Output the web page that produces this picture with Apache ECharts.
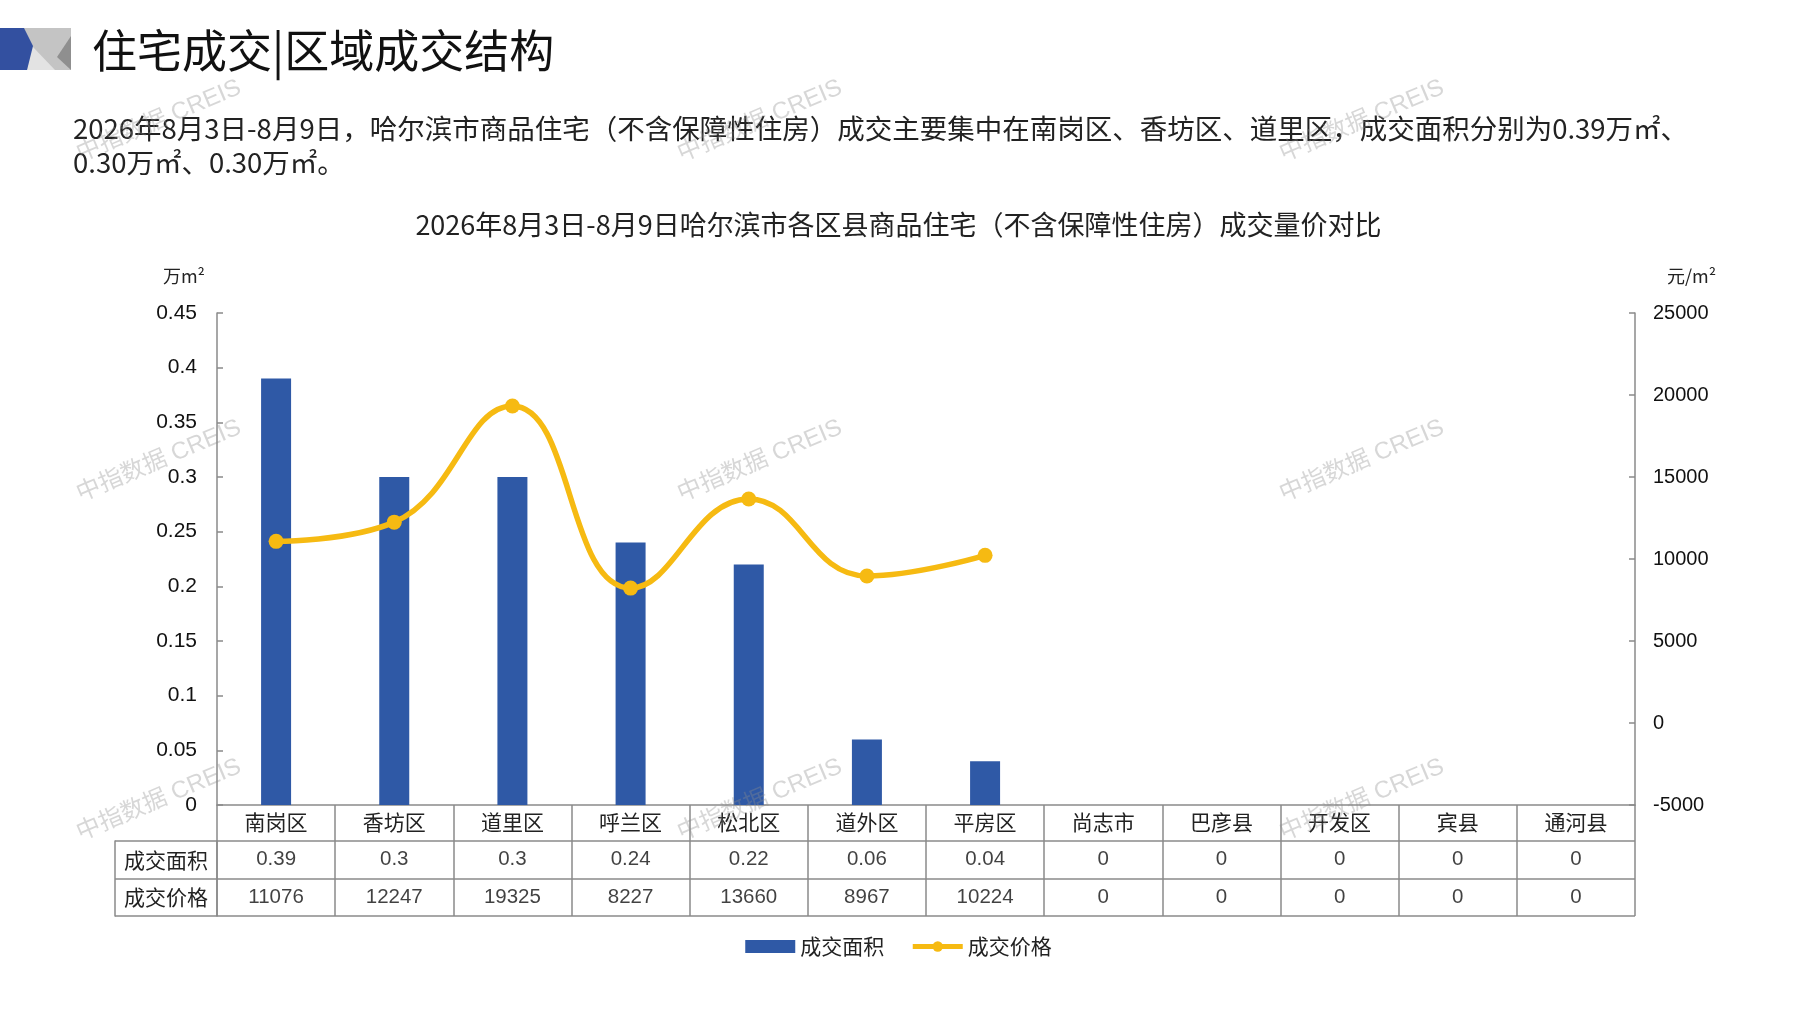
<!DOCTYPE html>
<html>
<head>
<meta charset="utf-8">
<script src="https://cdn.jsdelivr.net/npm/echarts@6/dist/echarts.min.js"></script>
<style>
html,body{margin:0;padding:0;background:#fff;}
#c{width:1797px;height:1010px;}
</style>
</head>
<body>
<div id="c"></div>
<script>
const categories = ['南岗区','香坊区','道里区','呼兰区','松北区','道外区','平房区','尚志市','巴彦县','开发区','宾县','通河县'];
const areaValues = [0.39, 0.3, 0.3, 0.24, 0.22, 0.06, 0.04, 0, 0, 0, 0, 0];
const priceValues = [11076, 12247, 19325, 8227, 13660, 8967, 10224, 0, 0, 0, 0, 0];
const priceLineCount = 7; // districts with recorded prices drawn on the line
const rowNames = ['成交面积','成交价格'];
const leftTicks = {min: 0, max: 0.45, interval: 0.05};
const rightTicks = {min: -5000, max: 25000, interval: 5000};

const CJK = '"Noto Sans CJK SC", sans-serif';
const NUM = '"Liberation Sans", "Noto Sans CJK SC", sans-serif';
const AX = '#8a8a8a';
const LINE_COLOR = '#F6BA12';

const chart = echarts.init(document.getElementById('c'), null, {renderer: 'canvas'});

const priceLine = priceValues.map((v, i) => i < priceLineCount ? v : null);
const tableData = [];
categories.forEach((c, i) => {
  tableData.push([c, rowNames[0], areaValues[i]]);
  tableData.push([c, rowNames[1], priceValues[i]]);
});

const watermarks = [];
[[159,121],[760,121],[1362,121],[159,461],[760,461],[1362,461],[159,800],[760,800],[1362,800]].forEach(p => {
  watermarks.push({
    type: 'text', x: p[0], y: p[1], rotation: 23 * Math.PI / 180, z: 100, silent: true,
    style: {text: '中指数据 CREIS', fill: 'rgba(140,140,140,0.35)', font: '24px ' + NUM, align: 'center', verticalAlign: 'middle'}
  });
});

const option = {
  backgroundColor: '#fff',
  animation: false,
  title: {
    text: '2026年8月3日-8月9日哈尔滨市各区县商品住宅（不含保障性住房）成交量价对比',
    left: 'center', top: 206,
    textStyle: {fontFamily: CJK, fontSize: 27, fontWeight: 'normal', color: '#222'}
  },
  legend: {
    bottom: 48, left: 'center', itemWidth: 50, itemHeight: 13, itemGap: 26,
    textStyle: {fontFamily: CJK, fontSize: 21, color: '#222'},
    data: [
      {name: '成交面积', icon: 'rect'},
      {name: '成交价格', lineStyle: {width: 5, color: LINE_COLOR}, itemStyle: {color: LINE_COLOR}}
    ]
  },
  graphic: [
    {type: 'rect', shape: {x: 24, y: 28, width: 47, height: 42}, style: {fill: '#c4c4c4'}},
    {type: 'polygon', shape: {points: [[27,70],[32,46],[55,70]]}, style: {fill: '#e3e3e3'}},
    {type: 'polygon', shape: {points: [[71,36],[71,70],[57,57]]}, style: {fill: '#8f8f8f'}},
    {type: 'polygon', shape: {points: [[0,28],[24,28],[33,46],[27,70],[0,70]]}, style: {fill: '#3350a0'}},
    {type: 'text', x: 92, y: 51, style: {text: '住宅成交|区域成交结构', font: '45px ' + CJK, fill: '#111', verticalAlign: 'middle'}},
    {type: 'text', x: 73, y: 129, style: {text: '2026年8月3日-8月9日，哈尔滨市商品住宅（不含保障性住房）成交主要集中在南岗区、香坊区、道里区，成交面积分别为0.39万㎡、', font: '27.5px ' + CJK, fill: '#222', verticalAlign: 'middle'}},
    {type: 'text', x: 73, y: 163, style: {text: '0.30万㎡、0.30万㎡。', font: '27.5px ' + CJK, fill: '#222', verticalAlign: 'middle'}}
  ].concat(watermarks),
  grid: [
    {left: 217, right: 162, top: 313, bottom: 205},
    {left: 217, right: 162, top: 841, height: 75}
  ],
  xAxis: [
    {
      type: 'category', gridIndex: 0, data: categories, boundaryGap: true,
      axisLine: {show: true, lineStyle: {color: AX, width: 1.5}},
      axisTick: {show: true, length: 36, inside: false, alignWithLabel: false, lineStyle: {color: AX, width: 1.5}},
      axisLabel: {margin: 7, fontFamily: CJK, fontSize: 21, color: '#222', interval: 0}
    },
    {
      type: 'category', gridIndex: 1, data: categories, boundaryGap: true,
      axisLine: {show: false}, axisTick: {show: false}, axisLabel: {show: false},
      splitLine: {show: true, showMinLine: true, showMaxLine: true, lineStyle: {color: AX, width: 1.5}}
    }
  ],
  yAxis: [
    {
      type: 'value', gridIndex: 0, min: leftTicks.min, max: leftTicks.max, interval: leftTicks.interval,
      name: '万m²', nameLocation: 'end', nameGap: 28,
      nameTextStyle: {fontFamily: CJK, fontSize: 18, color: '#222', align: 'right', padding: [0, 12, 0, 0]},
      axisLine: {show: true, lineStyle: {color: AX, width: 1.5}},
      axisTick: {show: true, inside: true, length: 6, lineStyle: {color: AX, width: 1.5}},
      axisLabel: {margin: 20, fontFamily: NUM, fontSize: 21, color: '#111'},
      splitLine: {show: false}
    },
    {
      type: 'value', gridIndex: 0, position: 'right', min: rightTicks.min, max: rightTicks.max, interval: rightTicks.interval,
      name: '元/m²', nameLocation: 'end', nameGap: 28,
      nameTextStyle: {fontFamily: CJK, fontSize: 18, color: '#222', align: 'left', padding: [0, 0, 0, 32]},
      axisLine: {show: true, lineStyle: {color: AX, width: 1.5}},
      axisTick: {show: true, inside: true, length: 6, lineStyle: {color: AX, width: 1.5}},
      axisLabel: {margin: 18, fontFamily: NUM, fontSize: 20, color: '#111', formatter: v => String(v)},
      splitLine: {show: false}
    },
    {
      type: 'category', gridIndex: 1, data: rowNames, inverse: true, boundaryGap: true,
      axisLine: {show: true, lineStyle: {color: AX, width: 1.5}},
      axisTick: {show: true, length: 102, inside: false, lineStyle: {color: AX, width: 1.5}},
      axisLabel: {margin: 51, align: 'center', fontFamily: CJK, fontSize: 21, color: '#222'},
      splitLine: {show: true, showMinLine: true, showMaxLine: true, lineStyle: {color: AX, width: 1.5}}
    },
    {
      type: 'value', gridIndex: 1, position: 'left', offset: 102, min: 0, max: 1,
      axisLine: {show: true, lineStyle: {color: AX, width: 1.5}},
      axisTick: {show: false}, axisLabel: {show: false}, splitLine: {show: false}
    }
  ],
  series: [
    {
      name: '成交面积', type: 'bar', xAxisIndex: 0, yAxisIndex: 0, data: areaValues,
      barWidth: 30, itemStyle: {color: '#2F59A6'}, z: 2
    },
    {
      name: '成交价格', type: 'line', xAxisIndex: 0, yAxisIndex: 1, data: priceLine,
      smooth: 0.45, symbol: 'circle', symbolSize: 15, connectNulls: false,
      lineStyle: {color: LINE_COLOR, width: 5.5}, itemStyle: {color: LINE_COLOR}, z: 3
    },
    {
      name: '表格', type: 'scatter', xAxisIndex: 1, yAxisIndex: 2, data: tableData,
      symbolSize: 1, itemStyle: {color: 'rgba(0,0,0,0)'}, silent: true,
      label: {show: true, position: 'inside', formatter: p => String(p.value[2]), fontFamily: NUM, fontSize: 20.5, color: '#111'}
    }
  ]
};
chart.setOption(option);
</script>
</body>
</html>
